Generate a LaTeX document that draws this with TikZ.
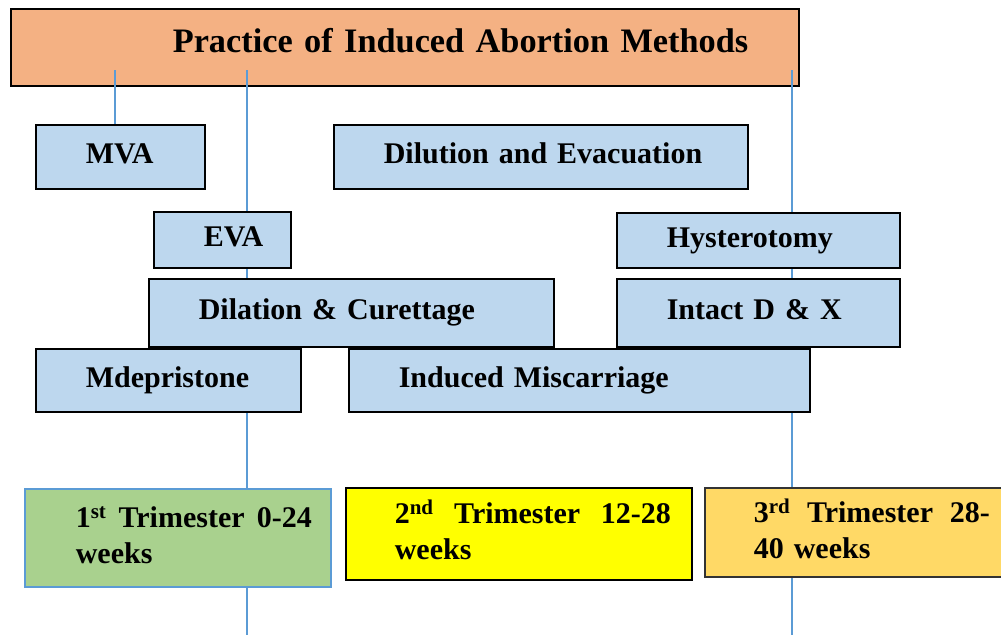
\documentclass[tikz,border=0pt]{standalone}
\usepackage{fontspec}
\setmainfont{Liberation Serif}
\definecolor{titleorange}{HTML}{F4B183}
\definecolor{boxblue}{HTML}{BDD7EE}
\definecolor{lineblue}{HTML}{5B9BD5}
\definecolor{trigreen}{HTML}{A9D18E}
\definecolor{triyellow}{HTML}{FFFF00}
\definecolor{trigold}{HTML}{FFD966}
\begin{document}
\begin{tikzpicture}[x=1pt,y=-1pt,
  titlebox/.style={draw=black, line width=1.6pt, fill=titleorange, anchor=north west, inner sep=0pt,
    align=left, font=\bfseries\fontsize{34.3}{42}\selectfont, text height=24pt, text depth=13pt},
  box/.style={draw=black, line width=1.6pt, fill=boxblue, anchor=north west, inner sep=0pt,
    align=left, font=\bfseries\fontsize{30}{36}\selectfont, text height=21pt, text depth=7pt},
  tri/.style={line width=1.6pt, anchor=north west, inner sep=0pt, align=left,
    font=\bfseries\fontsize{30}{36}\selectfont, text height=20pt, text depth=40pt},
  conn/.style={draw=lineblue, line width=1.2pt}]
\useasboundingbox (0,0) rectangle (1001,635);
% title
\node[titlebox, minimum width=788pt, minimum height=77pt, text width=748pt] (title) at (10,8)
  {\hspace*{142pt}Practice of Induced Abortion Methods};
% long vertical connectors (behind the boxes)
\coordinate (t2) at (247,70);
\coordinate (b2) at (247,635);
\coordinate (t3) at (792,70);
\coordinate (b3) at (792,635);
\coordinate (t1) at (115,70);
\draw[conn] (t2) -- (b2);
\draw[conn] (t3) -- (b3);
% method boxes
\node[box, minimum width=169pt, minimum height=64pt, text width=69pt] (mva) at (35,124) {\mbox{MVA}};
\node[box, minimum width=414pt, minimum height=64pt, text width=314pt] (de) at (333,124) {\mbox{Dilution and Evacuation}};
\node[box, minimum width=137pt, minimum height=56pt, text width=37pt] (eva) at (153,211) {\mbox{EVA}};
\node[box, minimum width=283pt, minimum height=55pt, text width=183pt] (hyst) at (616,212) {\mbox{Hysterotomy}};
\node[box, minimum width=405pt, minimum height=68pt, text width=305pt] (dc) at (148,278) {\mbox{Dilation \& Curettage}};
\node[box, minimum width=283pt, minimum height=68pt, text width=183pt] (idx) at (616,278) {\mbox{Intact D \& X}};
\node[box, minimum width=265pt, minimum height=63pt, text width=165pt] (mde) at (35,348) {\mbox{Mdepristone}};
\node[box, minimum width=461pt, minimum height=63pt, text width=361pt] (im) at (348,348) {\mbox{Induced Miscarriage}};
% short connector to MVA
\draw[conn] (t1) -- (t1 |- mva.north);
% trimester boxes
\node[tri, draw=lineblue, fill=trigreen, minimum width=306pt, minimum height=98pt, text width=268pt] (tri1) at (24,488)
  {\hspace*{32pt}\parbox[t]{236pt}{1\textsuperscript{st}\hfill Trimester\hfill 0-24\\ weeks}};
\node[tri, draw=black, fill=triyellow, minimum width=346pt, minimum height=92pt, text width=304pt] (tri2) at (345,487)
  {\hspace*{28pt}\parbox[t]{276pt}{2\textsuperscript{nd}\hfill Trimester\hfill 12-28\\ weeks}};
\node[tri, draw=black!80, fill=trigold, minimum width=306pt, minimum height=89pt, text width=264pt] (tri3) at (704,487)
  {\hspace*{28pt}\parbox[t]{236pt}{3\textsuperscript{rd}\hfill Trimester\hfill 28-\\ 40 weeks}};
\end{tikzpicture}
\end{document}
